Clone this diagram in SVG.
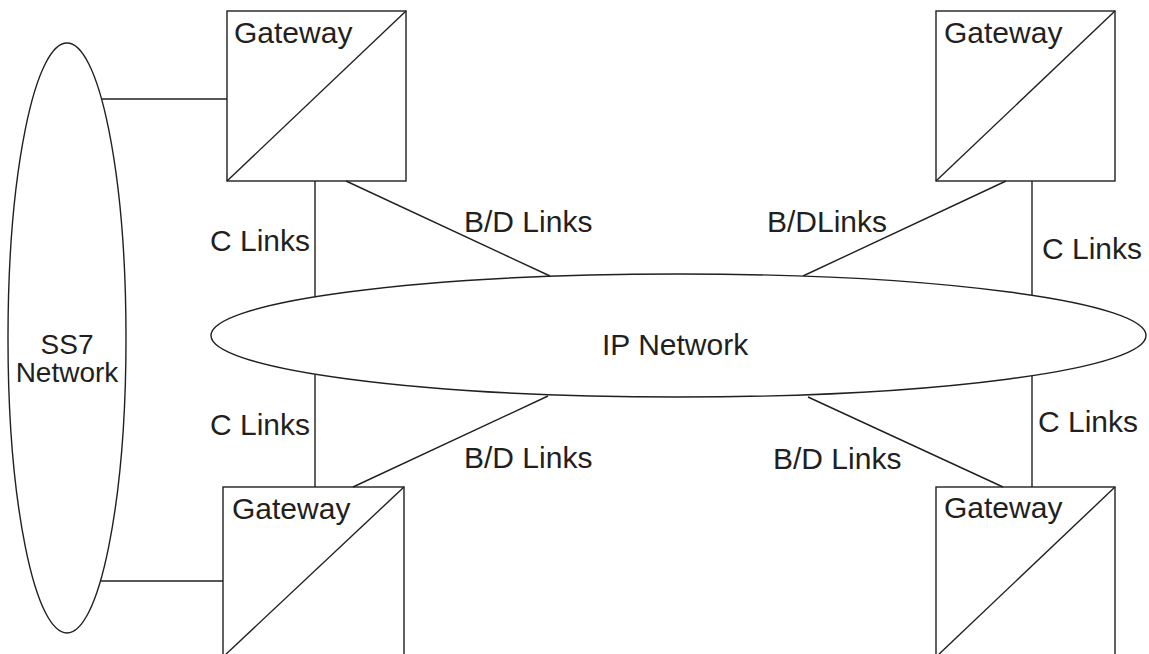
<svg xmlns="http://www.w3.org/2000/svg" width="1149" height="654" viewBox="0 0 1149 654">
<style>
.s{fill:none;stroke:#231f20;stroke-width:1.4}
.b{fill:#fff;stroke:#231f20;stroke-width:1.4}
.t{font-family:"Liberation Sans",Arial,Helvetica,sans-serif;font-size:30px;fill:#231f20}
.m{text-anchor:middle}
</style>
<rect width="1149" height="654" fill="#fff"/>
<g id="connectors">
<line class="s" x1="101" y1="99" x2="227" y2="99"/>
<line class="s" x1="101" y1="581" x2="223" y2="581"/>
<line class="s" x1="315" y1="181" x2="315" y2="297"/>
<line class="s" x1="346" y1="181" x2="550" y2="276"/>
<line class="s" x1="1006" y1="181" x2="803" y2="276"/>
<line class="s" x1="1032" y1="181" x2="1032" y2="296"/>
<line class="s" x1="315" y1="375" x2="315" y2="487"/>
<line class="s" x1="548" y1="396" x2="353" y2="487"/>
<line class="s" x1="808" y1="397" x2="1003" y2="487"/>
<line class="s" x1="1032" y1="375" x2="1032" y2="487"/>
<text class="t" x="210" y="251">C Links</text>
<text class="t" x="464" y="232">B/D Links</text>
<text class="t" x="767" y="232">B/DLinks</text>
<text class="t" x="1042" y="259">C Links</text>
<text class="t" x="210" y="435">C Links</text>
<text class="t" x="464" y="468">B/D Links</text>
<text class="t" x="773" y="469">B/D Links</text>
<text class="t" x="1038" y="432">C Links</text>
</g>
<g id="ss7">
<ellipse class="s" cx="67" cy="338" rx="59" ry="295"/>
<text class="t m" x="67" y="354" style="font-size:28px">SS7</text>
<text class="t m" x="67" y="382" style="font-size:28px">Network</text>
</g>
<g id="ip">
<ellipse class="b" cx="678.5" cy="335.5" rx="467.5" ry="61.5"/>
<text class="t" x="602" y="355">IP Network</text>
</g>
<g id="gw-tl">
<rect class="s" x="227" y="11" width="179" height="170"/>
<line class="s" x1="227" y1="181" x2="406" y2="11"/>
<text class="t" x="234" y="43">Gateway</text>
</g>
<g id="gw-tr">
<rect class="s" x="936" y="11" width="179" height="170"/>
<line class="s" x1="936" y1="181" x2="1115" y2="11"/>
<text class="t" x="944" y="43">Gateway</text>
</g>
<g id="gw-bl">
<rect class="s" x="223" y="487" width="181" height="170"/>
<line class="s" x1="223" y1="657" x2="404" y2="487"/>
<text class="t" x="232" y="519">Gateway</text>
</g>
<g id="gw-br">
<rect class="s" x="936" y="487" width="179" height="170"/>
<line class="s" x1="936" y1="657" x2="1115" y2="487"/>
<text class="t" x="944" y="518">Gateway</text>
</g>
</svg>
